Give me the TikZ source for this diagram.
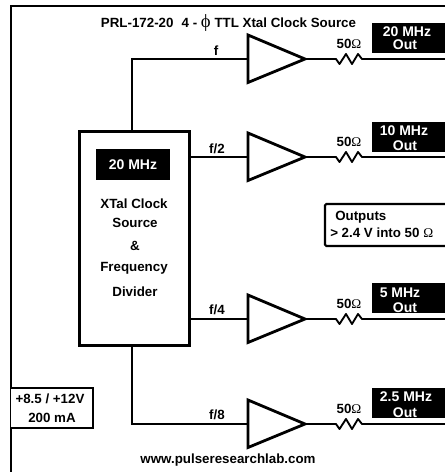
\documentclass[tikz,border=0pt]{standalone}
\usepackage{fontspec}
\setmainfont{Liberation Sans}[BoldFont={* Bold}]
\newfontfamily\symf{Liberation Serif}
\tikzset{
  wire/.style={line width=2.1pt,line join=miter},
  thinwire/.style={line width=1.4pt},
  lab/.style={font=\bfseries\fontsize{10}{11}\selectfont,inner sep=0pt,align=center},
  boxtext/.style={text=white,font=\bfseries\fontsize{10.5}{11.5}\selectfont,inner sep=0pt},
  blackbox/.style={fill=black,draw=none,inner sep=0pt,anchor=north west,minimum height=22.5pt,minimum width=55pt},
  panel/.style={draw=black,line width=1.6pt,fill=white,inner sep=0pt},
  amp/.style={line width=2.1pt,line join=miter,fill=white}
}
\newcommand{\ohmsym}{{\symf\mdseries Ω}}
\newcommand{\ampchain}[7]{% name, y, label, box top, label x, label y, Out y
  \coordinate (#1in) at (248,#2);
  \coordinate (#1tip) at (305,#2);
  \coordinate (#1top) at (248,#2-24);
  \coordinate (#1bot) at (248,#2+23.5);
  \coordinate (#1ra) at (329,#2);
  \coordinate (#1rb) at (368,#2);
  \coordinate (#1end) at (445,#2);
  \draw[amp] (#1top) -- (#1tip) -- (#1bot) -- cycle;
  \draw[wire] (#1tip) -- (#1ra);
  \draw[thinwire,line join=round] (#1ra) -- ++(7,0) -- ++(3.5,5) -- ++(6.5,-10) -- ++(6,10) -- ++(6,-10) -- ++(4,5) -- (#1rb);
  \draw[wire] (#1rb) -- (#1end);
  \node[lab] (#1ohm) at (349,#2-15.5) {50\ohmsym};
  \node[blackbox] (#1box) at (372,#4) {};
  \node[boxtext] (#1lab) at (#5,#6) {#3};
  \node[boxtext] (#1out) at (405,#7) {Out};
}
\begin{document}
\begin{tikzpicture}[x=0.75pt,y=-0.75pt]
\useasboundingbox (0,0) rectangle (445,472);
\fill[white] (0,0) rectangle (445,472);
% frame
\coordinate (frameBL) at (11,472);
\coordinate (frameTL) at (11,6);
\coordinate (frameTR) at (445,6);
\draw[line width=1.6pt] (frameBL) -- (frameTL) -- (frameTR);
% title
\node[lab] (title) at (228.5,23) {PRL-172-20\,\, 4 - {\symf\mdseries\fontsize{14}{14}\selectfont ϕ} TTL Xtal Clock Source};
% amplifiers and outputs
\ampchain{a}{59}{20 MHz}{23}{407}{32}{45}
\ampchain{b}{157}{10 MHz}{122}{404}{131}{146}
\ampchain{c}{319}{5 MHz}{283}{400}{293}{308}
\ampchain{d}{424}{2.5 MHz}{388}{406}{397}{413}
% block
\node[draw=black,line width=2.1pt,fill=white,minimum width=82.5pt,minimum height=160.5pt,inner sep=0pt,anchor=north west] (block) at (78,130) {};
\node[fill=black,text=white,font=\bfseries\fontsize{10.5}{12}\selectfont,minimum width=55.5pt,minimum height=23pt,inner sep=0pt] (freq) at (133,164.5) {20 MHz};
\node[lab] (l1) at (134,204) {XTal Clock};
\node[lab] (l2) at (135,223) {Source};
\node[lab] (l3) at (135,246) {\&};
\node[lab] (l4) at (134,268) {Frequency};
\node[lab] (l5) at (135,292) {Divider};
% connections
\coordinate (topjoin) at (132,130);
\coordinate (botjoin) at (132,344);
\draw[wire] (topjoin) -- (132,59) -- (ain);
\draw[wire] (botjoin) -- (132,424) -- (din);
\draw[wire] (block.east |- bin) -- (bin);
\draw[wire] (block.east |- cin) -- (cin);
\node[lab] (fa) at (216,51) {f};
\node[lab] (fb) at (217,149) {f/2};
\node[lab] (fc) at (217,310) {f/4};
\node[lab] (fd) at (217,415) {f/8};
% info boxes
\draw[panel,rounded corners=1pt] (450,204) -- (325,204) -- (325,246) -- (450,246);
\node[lab,anchor=west] (outa) at (335,217) {Outputs};
\node[lab,anchor=west] (outb) at (330,233) {> 2.4 V into 50 \ohmsym};
\draw[panel] (11,388) -- (93,388) -- (93,428) -- (11,428);
\node[lab] (pwra) at (50,399) {+8.5 / +12V};
\node[lab] (pwrb) at (52,418) {200 mA};
\node[lab] (web) at (228,460) {www.pulseresearchlab.com};
\end{tikzpicture}
\end{document}
